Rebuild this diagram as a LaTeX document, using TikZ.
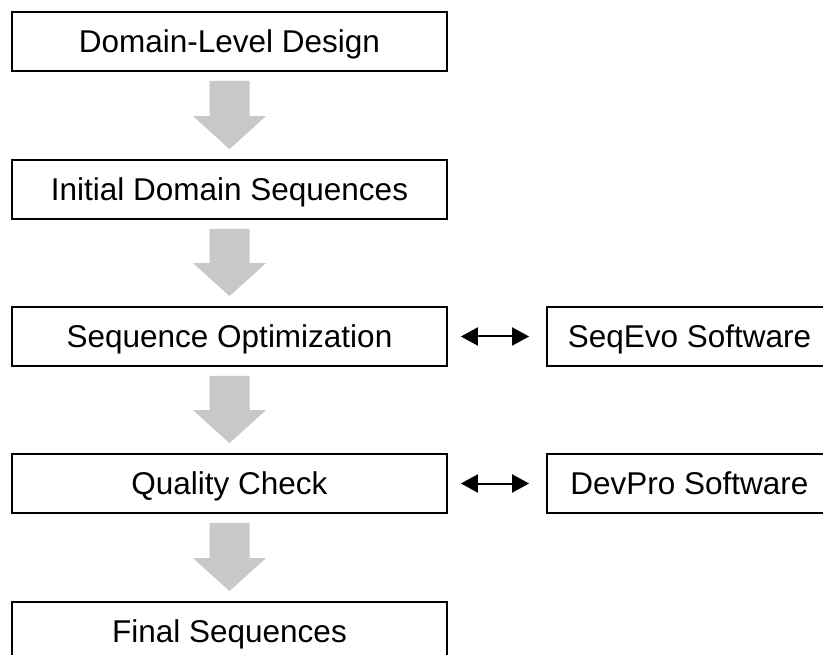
\documentclass[tikz,border=0pt]{standalone}
\usepackage{fontspec}
\setmainfont{Liberation Sans}
\usetikzlibrary{calc,arrows.meta}
\definecolor{arrowgray}{RGB}{200,200,200}
\tikzset{
  stepbox/.style={draw=black, line width=1.8pt, fill=white, rectangle,
    minimum height=59pt, inner sep=0pt, text height=22.5pt, text depth=0pt,
    font=\fontsize{31.5}{36}\selectfont},
  mainbox/.style={stepbox, minimum width=435pt},
  toolbox/.style={stepbox, minimum width=285pt},
  linkarrow/.style={line width=2pt,
    {Triangle[length=17pt,width=18pt]}-{Triangle[length=17pt,width=18pt]},
    shorten <=13pt, shorten >=17pt},
}
\begin{document}
\begin{tikzpicture}[x=1pt,y=-1pt]
  \useasboundingbox (0,0) rectangle (823,655);
  \fill[white] (0,0) rectangle (823,655);
  \clip (0,0) rectangle (823,655);

  % main pipeline
  \node[mainbox] (d1) at (229.5,41.5)  {Domain-Level Design};
  \node[mainbox] (d2) at (229.5,189.5) {Initial Domain Sequences};
  \node[mainbox] (d3) at (229.5,336.5) {Sequence Optimization};
  \node[mainbox] (d4) at (229.5,483.5) {Quality Check};
  \node[mainbox] (d5) at (229.5,631.5) {Final Sequences};

  % external tools
  \node[toolbox] (seqevo) at (689.5,336.5) {SeqEvo Software};
  \node[toolbox] (devpro) at (689.5,483.5) {DevPro Software};

  % block arrows between the stages
  \foreach \a/\b in {d1/d2,d2/d3,d3/d4,d4/d5}{
    \fill[arrowgray]
      ($(\a.south)+(-20,9)$) -- ($(\a.south)+(20,9)$) --
      ($(\b.north)+(20,-43)$) -- ($(\b.north)+(36.5,-43)$) --
      ($(\b.north)+(0,-10)$) --
      ($(\b.north)+(-36.5,-43)$) -- ($(\b.north)+(-20,-43)$) -- cycle;
  }

  % two-way links to the software
  \draw[linkarrow] (d3.east) -- (seqevo.west);
  \draw[linkarrow] (d4.east) -- (devpro.west);
\end{tikzpicture}
\end{document}
